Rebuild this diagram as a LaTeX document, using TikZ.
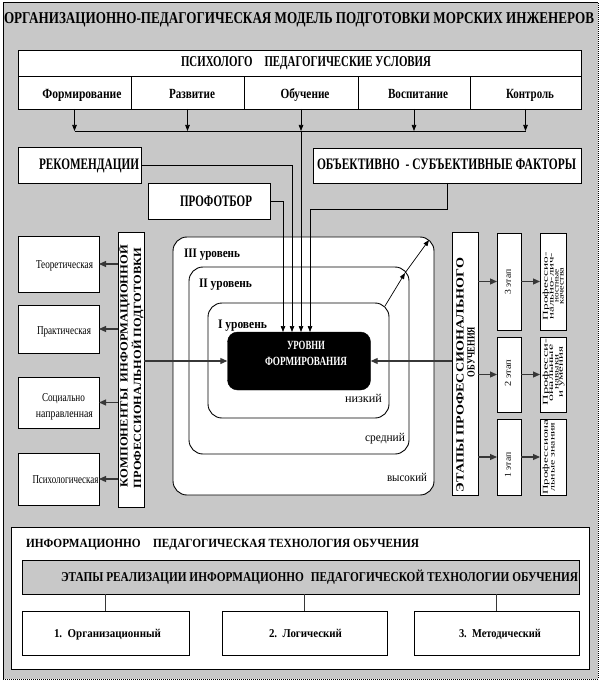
\documentclass[tikz,border=0pt]{standalone}
\usepackage{fontspec}
\setmainfont{Liberation Serif}
\usepackage{graphicx}
\usetikzlibrary{arrows.meta,calc}
\definecolor{bggray}{RGB}{200,200,200}
\definecolor{dline}{RGB}{55,55,55}
\newcommand{\fw}[2]{\resizebox{#1pt}{\height}{#2}}
\newcommand{\fs}[1]{\fontsize{#1}{#1}\selectfont}
\tikzset{
  box/.style={draw=black, fill=white, line width=0.9pt, inner sep=0pt, outer sep=0pt},
  txt/.style={inner sep=0pt, outer sep=0pt},
  lvl/.style={draw=black, fill=white, line width=0.9pt, rounded corners=14pt, inner sep=0pt},
  arr/.style={-{Triangle[length=6pt,width=4.5pt]}, line width=0.7pt},
  garr/.style={-{Triangle[length=7pt,width=6pt]}, line width=1.1pt, draw=dline, fill=dline},
  conn/.style={line width=0.7pt},
  gconn/.style={line width=0.8pt, draw=dline},
}
\begin{document}
\begin{tikzpicture}[x=1pt,y=-1pt]
\useasboundingbox (0,0) rectangle (604,684);
% frame
\fill[bggray] (3,3) rectangle (598,679);
\draw[line width=1pt] (3,679) -- (3,3) -- (598,3);
\draw[line width=1pt, dash pattern=on 1pt off 1pt] (598,3) -- (598,679) -- (3,679);

% title
\node[txt, anchor=base west] (title) at (4,24) {\bfseries\fs{16.5}\fw{590}{ОРГАНИЗАЦИОННО-ПЕДАГОГИЧЕСКАЯ МОДЕЛЬ ПОДГОТОВКИ МОРСКИХ ИНЖЕНЕРОВ}};

% psychological conditions
\node[box, minimum width=563, minimum height=26] (pph) at (299.5,63) {};
\node[txt, anchor=base west] (ppht) at (181,67) {\bfseries\fs{15}\fw{250}{ПСИХОЛОГО\hspace{1.1em}ПЕДАГОГИЧЕСКИЕ УСЛОВИЯ}};
\node[box, minimum width=113, minimum height=33] (c1) at (74.5,92.5) {};
\node[box, minimum width=113, minimum height=33] (c2) at (187.5,92.5) {};
\node[box, minimum width=114, minimum height=33] (c3) at (301,92.5) {};
\node[box, minimum width=112, minimum height=33] (c4) at (414,92.5) {};
\node[box, minimum width=111, minimum height=33] (c5) at (525.5,92.5) {};
\node[txt, anchor=base] (c1t) at (82,99) {\bfseries\fs{14}\fw{79}{Формирование}};
\node[txt, anchor=base] (c2t) at (192,99) {\bfseries\fs{14}\fw{46}{Развитие}};
\node[txt, anchor=base] (c3t) at (305,99) {\bfseries\fs{14}\fw{49}{Обучение}};
\node[txt, anchor=base] (c4t) at (418,99) {\bfseries\fs{14}\fw{60}{Воспитание}};
\node[txt, anchor=base] (c5t) at (530,99) {\bfseries\fs{14}\fw{48}{Контроль}};

% bus
\coordinate (bus1) at (74.5,131);
\coordinate (bus2) at (187.5,131);
\coordinate (bus3) at (301,131);
\coordinate (bus4) at (414,131);
\coordinate (bus5) at (525.5,131);
\draw[conn] (bus1) -- (bus5);
\foreach \i in {1,...,5} { \draw[arr] (c\i.south) -- (bus\i); }

% recommendations etc.
\node[box, minimum width=123, minimum height=36] (rec) at (79.5,165) {};
\node[txt, anchor=base east] (rect) at (139,170) {\bfseries\fs{16}\fw{100}{РЕКОМЕНДАЦИИ}};
\node[box, minimum width=122, minimum height=36] (prof) at (209,201) {};
\node[txt, anchor=base west] (proft) at (180,207) {\bfseries\fs{16}\fw{72}{ПРОФОТБОР}};
\node[box, minimum width=268, minimum height=35] (obj) at (447,165.5) {};
\node[txt, anchor=base west] (objt) at (317,170) {\bfseries\fs{16}\fw{259}{ОБЪЕКТИВНО\ \ - СУБЪЕКТИВНЫЕ ФАКТОРЫ}};

% levels
\node[lvl, minimum width=261, minimum height=258] (l3) at (303.5,366) {};
\node[lvl, minimum width=220, minimum height=187] (l2) at (299,360.5) {};
\node[lvl, minimum width=181, minimum height=115] (l1) at (298.5,360.5) {};
\node[draw=black, fill=black, rounded corners=10pt, minimum width=143, minimum height=58, inner sep=0pt] (core) at (299,361) {};
\node[txt, anchor=base west] (l3t) at (184,257) {\bfseries\fs{13}\fw{56}{III уровень}};
\node[txt, anchor=base west] (l2t) at (199,287) {\bfseries\fs{13}\fw{53}{II уровень}};
\node[txt, anchor=base west] (l1t) at (218,328) {\bfseries\fs{13}\fw{49}{I уровень}};
\node[txt, anchor=base east] (l1b) at (382,402) {\fs{12}\fw{37}{низкий}};
\node[txt, anchor=base east] (l2b) at (405,441) {\fs{12}\fw{40}{средний}};
\node[txt, anchor=base east] (l3b) at (427,481) {\fs{12}\fw{40}{высокий}};
\node[txt, anchor=base] (coret1) at (306,349.5) {\color{white}\bfseries\fs{12.5}\fw{38}{УРОВНИ}};
\node[txt, anchor=base] (coret2) at (306,365.5) {\color{white}\bfseries\fs{12.5}\fw{82}{ФОРМИРОВАНИЯ}};

% arrows into the core
\coordinate (t1) at (283,332);
\coordinate (t2) at (292,332);
\coordinate (t3) at (301,332);
\coordinate (t4) at (310,332);
\coordinate (b4) at (310,209);
\draw[arr] (prof.east) -| (t1);
\draw[arr] (rec.east) -| (t2);
\draw[arr] (bus3) -- (t3);
\draw[arr] (obj.south) |- (b4) -- (t4);

% diagonal
\coordinate (d1) at (385,306);
\coordinate (d2) at (405,273);
\coordinate (d3) at (429,240);
\draw[arr] (d1) -- (d2);
\draw[arr] (d2) -- (d3);

% components column
\node[box, minimum width=26, minimum height=275] (komp) at (131,369.5) {};
\node[txt, rotate=90] (k1) at (124,366) {\bfseries\fs{11}\fw{242}{КОМПОНЕНТЫ\ \ ИНФОРМАЦИОННОЙ}};
\node[txt, rotate=90] (k2) at (137.5,368) {\bfseries\fs{11}\fw{240}{ПРОФЕССИОНАЛЬНОЙ ПОДГОТОВКИ}};
\node[box, minimum width=81, minimum height=56] (teo) at (58.5,264) {};
\node[box, minimum width=81, minimum height=48] (prak) at (58.5,329) {};
\node[box, minimum width=81, minimum height=51] (soc) at (58.5,402.5) {};
\node[box, minimum width=81, minimum height=52] (psy) at (58.5,479) {};
\node[txt, anchor=base] (teot) at (64.5,269) {\fs{12}\fw{57}{Теоретическая}};
\node[txt, anchor=base] (prakt) at (64,334) {\fs{12}\fw{54}{Практическая}};
\node[txt, anchor=base] (soct1) at (63.5,401) {\fs{12}\fw{43}{Социально}};
\node[txt, anchor=base] (soct2) at (64.5,417) {\fs{12}\fw{57}{направленная}};
\node[txt, anchor=base] (psyt) at (65.5,483) {\fs{12}\fw{66}{Психологическая}};
\foreach \n in {teo,prak,soc,psy} { \draw[garr] (komp.west |- \n.east) -- (\n.east); }
\draw[garr] (komp.east |- core.west) -- (core.west);

% stages column
\node[box, minimum width=26, minimum height=263] (etapy) at (465,363.5) {};
\node[txt, rotate=90] (e1) at (460,375) {\bfseries\fs{11}\fw{234}{ЭТАПЫ ПРОФЕССИОНАЛЬНОГО}};
\node[txt, rotate=90] (e2) at (471,352) {\bfseries\fs{11}\fw{50}{ОБУЧЕНИЯ}};
\draw[garr] (etapy.west |- core.east) -- (core.east);
\node[box, minimum width=24, minimum height=97] (st3) at (509,281.5) {};
\node[box, minimum width=24, minimum height=75] (st2) at (509,374.5) {};
\node[box, minimum width=24, minimum height=76] (st1) at (509,457) {};
\node[txt, rotate=90] (st3t) at (508,282) {\fs{9}\fw{25}{3 этап}};
\node[txt, rotate=90] (st2t) at (508,373) {\fs{9}\fw{27}{2 этап}};
\node[txt, rotate=90] (st1t) at (508,465) {\fs{9}\fw{25}{1 этап}};
\node[box, minimum width=26, minimum height=97] (r3) at (553,281.5) {};
\node[box, minimum width=26, minimum height=75] (r2) at (553,374.5) {};
\node[box, minimum width=26, minimum height=76] (r1) at (553,457) {};
\foreach \i in {1,2,3} {
  \draw[garr] (etapy.east |- st\i.west) -- (st\i.west);
  \draw[garr] (st\i.east) -- (r\i.west);
}
\node[txt, rotate=90] (r3a) at (546,286) {\fs{7.5}\fw{68}{Профессио-}};
\node[txt, rotate=90] (r3b) at (552,286) {\fs{7.5}\fw{66}{нально-лич-}};
\node[txt, rotate=90] (r3c) at (557,286) {\fs{7.5}\fw{33}{ностные}};
\node[txt, rotate=90] (r3d) at (562,286) {\fs{7.5}\fw{37}{качества}};
\node[txt, rotate=90] (r2a) at (546,372) {\fs{7.5}\fw{67}{Професси-}};
\node[txt, rotate=90] (r2b) at (551.5,373) {\fs{7.5}\fw{57}{ональные}};
\node[txt, rotate=90] (r2c) at (557,372) {\fs{7.5}\fw{35}{навыки}};
\node[txt, rotate=90] (r2d) at (562,372) {\fs{7.5}\fw{50}{и умения}};
\node[txt, rotate=90] (r1a) at (546,457) {\fs{7.5}\fw{75}{Профессиона}};
\node[txt, rotate=90] (r1b) at (553,457) {\fs{7.5}\fw{69}{льные знания}};

% bottom section
\node[box, minimum width=578, minimum height=142] (tech) at (300,598) {};
\node[txt, anchor=base west] (techt) at (26,547) {\bfseries\fs{12.5}\fw{393}{ИНФОРМАЦИОННО\hspace{1.1em}ПЕДАГОГИЧЕСКАЯ ТЕХНОЛОГИЯ ОБУЧЕНИЯ}};
\node[box, fill=bggray, minimum width=557, minimum height=34] (gbox) at (300.5,577) {};
\node[txt, anchor=base west] (gboxt) at (61,581.5) {\bfseries\fs{13.5}\fw{517}{ЭТАПЫ РЕАЛИЗАЦИИ ИНФОРМАЦИОННО\hspace{0.6em}ПЕДАГОГИЧЕСКОЙ ТЕХНОЛОГИИ ОБУЧЕНИЯ}};
\node[box, minimum width=167, minimum height=44] (b1) at (105.5,633) {};
\node[box, minimum width=165, minimum height=44] (b2) at (304.5,633) {};
\node[box, minimum width=165, minimum height=44] (b3) at (496.5,633) {};
\node[txt, anchor=base west] (b1t) at (54,637) {\bfseries\fs{12}\fw{107}{1.\ \ Организационный}};
\node[txt, anchor=base west] (b2t) at (269,637) {\bfseries\fs{12}\fw{73}{2.\ \ Логический}};
\node[txt, anchor=base west] (b3t) at (459,637) {\bfseries\fs{12}\fw{82}{3.\ \ Методический}};
\foreach \i in {1,2,3} { \draw[gconn] (gbox.south -| b\i.north) -- (b\i.north); }
\end{tikzpicture}
\end{document}
